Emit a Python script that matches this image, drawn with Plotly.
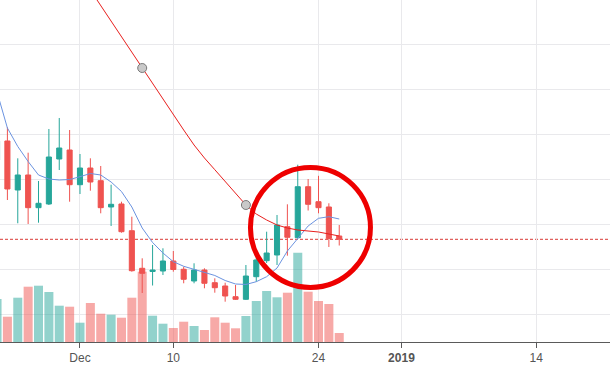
import plotly.graph_objects as go

# ---- data ----
dates = [
    "2018-11-23", "2018-11-24", "2018-11-25", "2018-11-26", "2018-11-27", "2018-11-28",
    "2018-11-29", "2018-11-30", "2018-12-01", "2018-12-02", "2018-12-03", "2018-12-04",
    "2018-12-05", "2018-12-06", "2018-12-07", "2018-12-08", "2018-12-09", "2018-12-10",
    "2018-12-11", "2018-12-12", "2018-12-13", "2018-12-14", "2018-12-15", "2018-12-16",
    "2018-12-17", "2018-12-18", "2018-12-19", "2018-12-20", "2018-12-21", "2018-12-22",
    "2018-12-23", "2018-12-24", "2018-12-25", "2018-12-26",
]
opens = [3887.0, 3971.5, 3754.1, 3820.7, 3675.7, 3692.1, 3891.6, 3931.5, 3777.7, 3851.7,
         3795.4, 3678.8, 3692.1, 3573.6, 3406.9, 3392.7, 3394.9, 3439.3, 3402.5, 3350.6,
         3399.3, 3343.0, 3328.4, 3280.9, 3269.4, 3369.6, 3440.6, 3465.9, 3591.4, 3542.6,
         3768.8, 3702.3, 3678.8, 3550.1]
highs = [3998.0, 4032.2, 3894.7, 3919.6, 3794.1, 4024.7, 4073.5, 4020.2, 3913.8, 3894.7,
         3860.6, 3777.7, 3702.3, 3635.7, 3451.2, 3510.2, 3495.6, 3483.6, 3414.0, 3429.1,
         3406.9, 3362.5, 3343.0, 3332.8, 3421.5, 3473.4, 3569.2, 3643.3, 3690.7, 3866.4,
         3802.9, 3817.1, 3695.2, 3598.9]
lows = [3865.0, 3709.8, 3606.5, 3603.4, 3609.1, 3687.6, 3842.8, 3702.3, 3736.4, 3751.0,
        3650.8, 3594.5, 3564.8, 3391.8, 3297.3, 3330.6, 3377.2, 3391.8, 3340.4, 3340.4,
        3318.2, 3298.7, 3258.8, 3266.3, 3266.3, 3347.5, 3430.4, 3421.5, 3462.8, 3539.1,
        3663.2, 3650.8, 3501.4, 3508.0]
closes = [3971.5, 3758.6, 3820.7, 3675.7, 3695.2, 3900.5, 3940.4, 3777.7, 3851.7, 3789.6,
          3675.7, 3690.7, 3569.2, 3396.2, 3384.7, 3399.3, 3439.3, 3401.6, 3358.1, 3399.3,
          3340.4, 3320.8, 3284.0, 3269.4, 3372.7, 3443.7, 3474.7, 3598.9, 3544.4, 3768.8,
          3690.7, 3675.7, 3539.1, 3535.5]
volumes = [430, 253, 443, 553, 563, 500, 363, 353, 193, 390,
           283, 273, 243, 443, 703, 263, 183, 140, 203, 160,
           120, 247, 193, 137, 260, 410, 510, 447, 493, 893,
           503, 410, 380, 90]
ma_fast = [4188.8, 4029.1, 3947.1, 3880.5, 3820.7, 3802.9, 3798.5, 3800.7, 3813.1, 3827.3,
           3820.7, 3789.6, 3747.5, 3678.8, 3585.6, 3521.3, 3474.7, 3436.2, 3415.8, 3401.6,
           3390.5, 3375.0, 3352.8, 3337.3, 3335.1, 3347.5, 3369.6, 3408.2, 3483.6, 3541.3,
           3594.5, 3628.6, 3635.7, 3625.5]
ma_slow_dates = dates[9:]
ma_slow = [4641.2, 4571.9, 4502.3, 4432.7, 4363.1, 4295.2, 4224.3, 4155.5, 4086.8, 4020.2,
           3953.7, 3896.1, 3844.2, 3792.3, 3740.9, 3687.6, 3647.7, 3621.1, 3598.9, 3585.6,
           3576.7, 3572.3, 3567.9, 3559.0, 3550.1]
anchor_dates = ["2018-12-07", "2018-12-17"]

tick_vals = ["2018-12-01", "2018-12-10", "2018-12-24", "2019-01-01", "2019-01-14"]
tick_text = ["Dec", "10", "24", "<b>2019</b>", "14"]

UP = "#26a69a"
DOWN = "#ef5350"
UP_VOL = "rgba(38,166,154,0.5)"
DOWN_VOL = "rgba(239,83,80,0.5)"

vol_colors = [UP_VOL if c >= o else DOWN_VOL for o, c in zip(opens, closes)]
slow_lookup = dict(zip(ma_slow_dates, ma_slow))
anchor_vals = [slow_lookup[d] for d in anchor_dates]

fig = go.Figure()

fig.add_trace(go.Bar(
    x=dates, y=volumes, marker=dict(color=vol_colors, line=dict(width=0)),
    width=0.87 * 86400000, yaxis="y", hoverinfo="skip", showlegend=False,
))

fig.add_trace(go.Candlestick(
    x=dates, open=opens, high=highs, low=lows, close=closes, yaxis="y2",
    increasing=dict(line=dict(color=UP, width=1), fillcolor=UP),
    decreasing=dict(line=dict(color=DOWN, width=1), fillcolor=DOWN),
    whiskerwidth=0, showlegend=False,
))

fig.add_trace(go.Scatter(
    x=dates, y=ma_fast, mode="lines", yaxis="y2",
    line=dict(color="#6b93e0", width=1), showlegend=False,
))

fig.add_trace(go.Scatter(
    x=ma_slow_dates, y=ma_slow, mode="lines", yaxis="y2",
    line=dict(color="#e8201e", width=1), showlegend=False,
))

fig.add_trace(go.Scatter(
    x=anchor_dates, y=anchor_vals, mode="markers", yaxis="y2",
    marker=dict(size=9, color="#c9c9c9", line=dict(color="#7a7a7a", width=1)),
    showlegend=False,
))

fig.update_layout(
    width=610, height=370,
    margin=dict(l=0, r=0, t=0, b=28),
    paper_bgcolor="white", plot_bgcolor="white",
    showlegend=False,
    font=dict(family="Liberation Sans, Arial, sans-serif", size=12, color="#555555"),
    xaxis=dict(
        type="date",
        range=["2018-11-23 06:52", "2019-01-21 02:38"],
        tickvals=tick_vals, ticktext=tick_text,
        showgrid=True, gridcolor="#e9e9ec", gridwidth=1,
        showline=True, linecolor="#5a5a5a", linewidth=1,
        ticks="outside", ticklen=5, tickcolor="#5a5a5a",
        tickfont=dict(size=12, color="#555555"),
        rangeslider=dict(visible=False),
        zeroline=False, fixedrange=True,
    ),
    yaxis=dict(
        range=[0, 3420], showgrid=False, showticklabels=False,
        zeroline=False, showline=False, fixedrange=True,
    ),
    yaxis2=dict(
        overlaying="y", side="right",
        range=[3080, 4596.8], tick0=0, dtick=200,
        showgrid=True, gridcolor="#e9e9ec", gridwidth=1,
        showticklabels=False, zeroline=False, showline=False, fixedrange=True,
    ),
    shapes=[
        dict(type="line", xref="paper", x0=0, x1=1, yref="y2",
             y0=closes[-1], y1=closes[-1], layer="below",
             line=dict(color="#d93a36", width=1, dash="3px,2px")),
        dict(type="circle", xref="x", yref="y2",
             x0="2018-12-17 10:30", x1="2018-12-29 00:15",
             y0=3322, y1=3854, layer="above",
             line=dict(color="#ee0000", width=5)),
    ],
)

fig.write_html(
    "out.html",
    config={"displayModeBar": False},
    post_script="document.body.style.margin='0';document.body.style.padding='0';",
)
